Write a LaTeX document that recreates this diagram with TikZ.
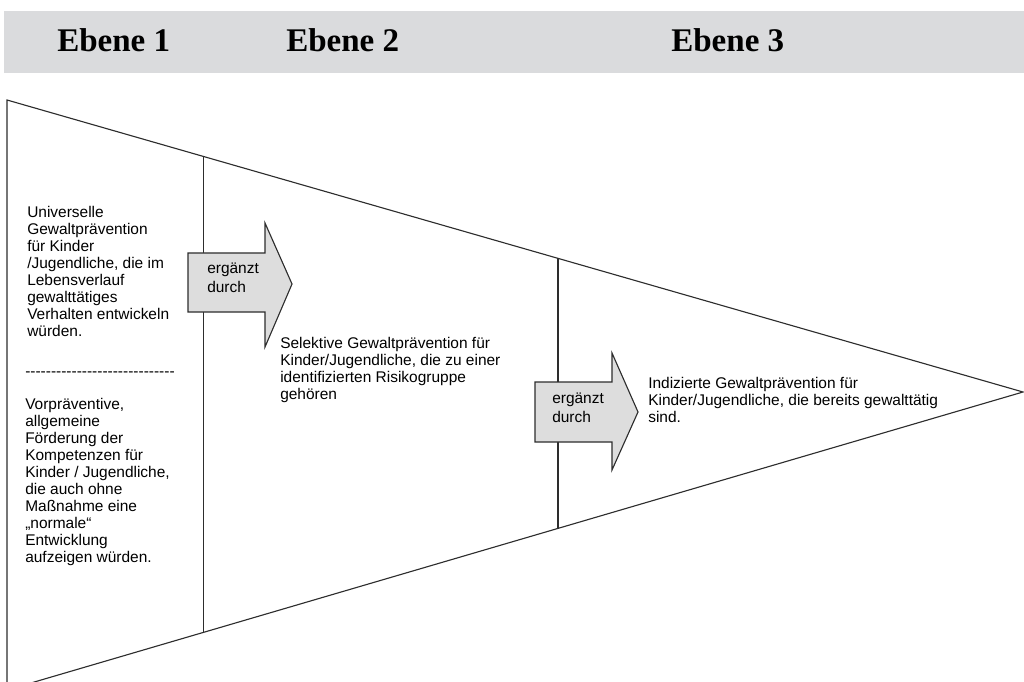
\documentclass[tikz,border=0pt]{standalone}
\usepackage{fontspec}
\setmainfont{Liberation Sans}
\newfontfamily\headfont{Liberation Serif}
\usepackage{xcolor}
\usetikzlibrary{calc}
\definecolor{bandgray}{RGB}{218,219,221}
\definecolor{arrowgray}{RGB}{221,221,221}
\definecolor{linegray}{RGB}{45,45,45}

\begin{document}
\begin{tikzpicture}[x=0.025cm, y=-0.025cm,
	edge/.style={draw=linegray, line width=0.8pt},
	arrowbox/.style={edge, fill=arrowgray, line join=miter},
	level/.style={anchor=base west, inner sep=0pt, font=\headfont\bfseries\fontsize{23.5}{26}\selectfont},
	txt/.style={anchor=north west, inner sep=0pt, align=left, font=\fontsize{11}{12.1}\selectfont},
	arrowtxt/.style={txt, font=\fontsize{11}{13.5}\selectfont}]
	\useasboundingbox (0,0) rectangle (1024,682);
	\clip (0,0) rectangle (1024,682);
	% header band
	\fill[bandgray] (4,11) rectangle (1024,73);
	\node[level] (E1) at (57,52) {Ebene 1};
	\node[level] (E2) at (286,52) {Ebene 2};
	\node[level] (E3) at (671,52) {Ebene 3};
	% triangle and separators
	\coordinate (TL) at (7,100);
	\coordinate (Tip) at (1023,392);
	\coordinate (BL) at (7,690);
	\draw[edge] (TL) -- (Tip) -- (BL) -- cycle;
	\coordinate (s1top) at ($(TL)!0.193!(Tip)$);
	\coordinate (s1bot) at ($(BL)!0.193!(Tip)$);
	\coordinate (s2top) at ($(TL)!0.5423!(Tip)$);
	\coordinate (s2bot) at ($(BL)!0.5423!(Tip)$);
	\draw[edge] (s1top) -- (s1bot);
	\draw[edge] (s2top) -- (s2bot);
	% arrows
	\draw[arrowbox] (188,253) -- (265,253) -- (265,223) -- (292,284) -- (265,347) -- (265,312) -- (188,312) -- cycle;
	\draw[arrowbox] (535,382) -- (612,382) -- (612,353) -- (638,412) -- (612,470) -- (612,442) -- (535,442) -- cycle;
	\node[arrowtxt] (A1) at (207,263) {ergänzt\\durch};
	\node[arrowtxt] (A2) at (552,393) {ergänzt\\durch};
	% texts
	\node[txt] (Universal) at (27,206) {Universelle\\Gewaltprävention\\für Kinder\\/Jugendliche, die im\\Lebensverlauf\\gewalttätiges\\Verhalten entwickeln\\würden.};
	\node[txt] (Sep) at (25,372) {\foreach \i in {1,...,29}{-}};
	\node[txt] (Vor) at (25,398) {Vorpräventive,\\allgemeine\\Förderung der\\Kompetenzen für\\Kinder / Jugendliche,\\die auch ohne\\Maßnahme eine\\„normale“\\Entwicklung\\aufzeigen würden.};
	\node[txt] (Selektiv) at (280,337) {Selektive Gewaltprävention für\\Kinder/Jugendliche, die zu einer\\identifizierten Risikogruppe\\gehören};
	\node[txt] (Indiziert) at (648,377) {Indizierte Gewaltprävention für\\Kinder/Jugendliche, die bereits gewalttätig\\sind.};
\end{tikzpicture}
\end{document}
